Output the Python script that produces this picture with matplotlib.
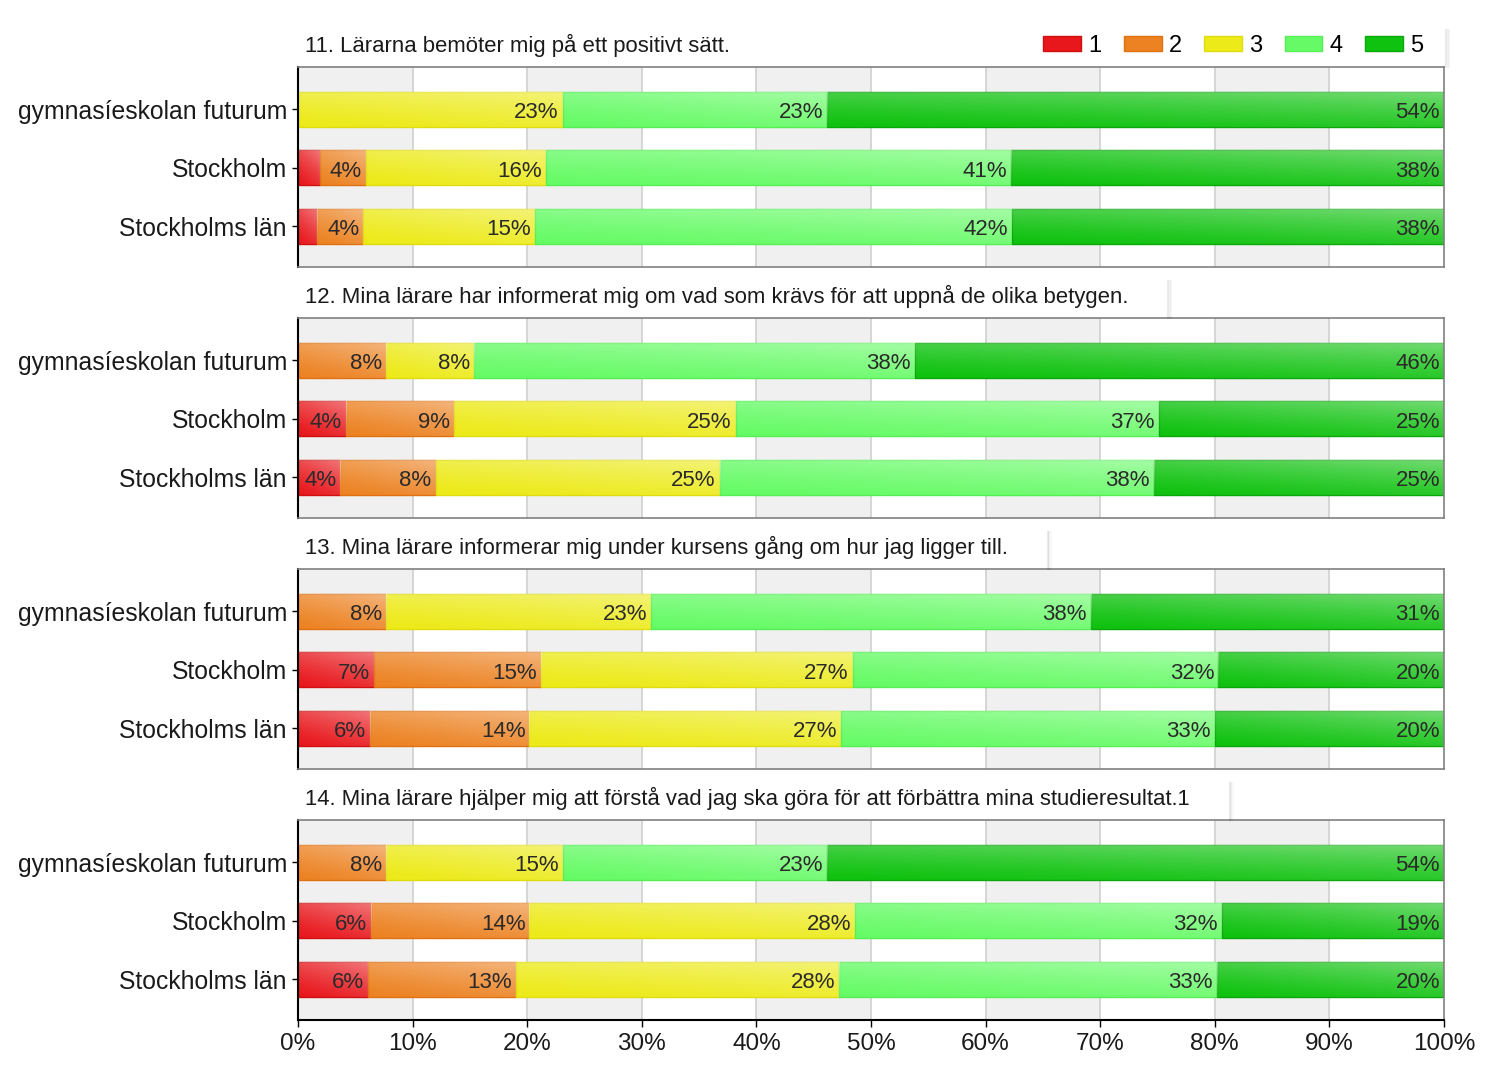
import numpy as np
import matplotlib
matplotlib.use("Agg")
import matplotlib.pyplot as plt
from matplotlib.lines import Line2D
from matplotlib.patches import Patch

plt.rcParams['font.family'] = ['Liberation Sans', 'DejaVu Sans']

questions = [
    "11. Lärarna bemöter mig på ett positivt sätt.",
    "12. Mina lärare har informerat mig om vad som krävs för att uppnå de olika betygen.",
    "13. Mina lärare informerar mig under kursens gång om hur jag ligger till.",
    "14. Mina lärare hjälper mig att förstå vad jag ska göra för att förbättra mina studieresultat.1",
]
groups = ["gymnasíeskolan futurum", "Stockholm", "Stockholms län"]
levels = ["1", "2", "3", "4", "5"]

# shares (%) for answers 1..5, per question, per group
q11 = [[0.0, 0.0, 23.1, 23.1, 53.8],
       [1.9, 4.0, 15.7, 40.6, 37.8],
       [1.7, 4.0, 15.0, 41.6, 37.7]]
q12 = [[0.0, 7.7, 7.7, 38.4, 46.2],
       [4.2, 9.4, 24.6, 36.9, 24.9],
       [3.7, 8.3, 24.8, 37.9, 25.3]]
q13 = [[0.0, 7.7, 23.1, 38.4, 30.8],
       [6.6, 14.6, 27.2, 31.9, 19.7],
       [6.3, 13.9, 27.2, 32.6, 20.0]]
q14 = [[0.0, 7.7, 15.4, 23.1, 53.8],
       [6.4, 13.8, 28.4, 32.0, 19.4],
       [6.1, 12.9, 28.2, 33.0, 19.8]]
data = [q11, q12, q13, q14]

xticks = [0, 10, 20, 30, 40, 50, 60, 70, 80, 90, 100]
xticklabels = [f"{t}%" for t in xticks]

base_colors = ["#e8171c", "#ec8222", "#ecea18", "#66fb66", "#0fc20f"]
edge_colors = ["#d01010", "#e07010", "#e0dc10", "#55ee55", "#0aa80a"]

W, H = 1500, 1075
fig = plt.figure(figsize=(15, 10.75), dpi=100)

panel_px = [(67, 267), (318, 518), (569, 769), (820, 1020)]
left_px, right_px = 298, 1444

def grad_image(n=40, m=200):
    v = np.linspace(1, 0, n)[:, None]
    u = np.linspace(0, 1, m)[None, :]
    a = 0.42 * np.clip(0.65 * v + 0.35 * u, 0, 1) ** 1.3
    img = np.ones((n, m, 4))
    img[..., 3] = a
    return img

axes = []
titles = []
for qi, (top, bot) in enumerate(panel_px):
    ax = fig.add_axes([left_px / W, 1 - bot / H, (right_px - left_px) / W, (bot - top) / H])
    axes.append(ax)
    for k in range(0, 100, 20):
        ax.axvspan(k, k + 10, color="#f0f0f0", zorder=0, lw=0)
    for t in xticks[1:-1]:
        ax.axvline(t, color="#d0d0d0", lw=1.2, zorder=0.5)
    vals = np.array(data[qi])
    ypos = np.arange(len(groups))
    bh = 0.6
    for gi in range(len(groups)):
        left = 0.0
        for li in range(len(levels)):
            w = vals[gi, li]
            bars = ax.barh(ypos[gi], w, left=left, height=bh, color=base_colors[li],
                           edgecolor=edge_colors[li], linewidth=1.0, zorder=2)
            patch = bars.patches[0]
            if w > 0:
                im = ax.imshow(grad_image(),
                               extent=[left, left + w, ypos[gi] + bh / 2, ypos[gi] - bh / 2],
                               aspect="auto", zorder=2.5, interpolation="bilinear")
                im.set_clip_path(patch)
            if w >= 3:
                ax.text(left + w - 0.35, ypos[gi] + 0.06, f"{w:.0f}%", ha="right", va="center",
                        fontsize=16, color="#2a2a2a", zorder=3)
            left += w
    ax.set_xlim(0, 100)
    ax.set_ylim(2.7, -0.72)
    ax.set_yticks(ypos)
    ax.set_yticklabels(groups, fontsize=17.8, color="#1a1a1a")
    ax.tick_params(axis="y", length=4, width=1, pad=4)
    ax.set_xticks(xticks)
    for s in ["top", "right", "bottom"]:
        ax.spines[s].set_color("#808080")
        ax.spines[s].set_linewidth(1.2)
    ax.spines["left"].set_color("black")
    ax.spines["left"].set_linewidth(1.5)
    if qi < 3:
        ax.tick_params(axis="x", length=0, labelbottom=False)
    else:
        ax.spines["bottom"].set_color("black")
        ax.spines["bottom"].set_linewidth(1.5)
        ax.set_xticklabels(xticklabels, fontsize=17.5, color="#1a1a1a")
        ax.tick_params(axis="x", length=5, width=1, pad=4)
    t = ax.text(7 / (right_px - left_px), 1 + 22 / (bot - top), questions[qi], transform=ax.transAxes,
                ha="left", va="center", fontsize=15.9, color="#1a1a1a")
    titles.append(t)

# faint shadow at the right end of each title box
fig.canvas.draw()
renderer = fig.canvas.get_renderer()
for qi, (top, bot) in enumerate(panel_px):
    bb = titles[qi].get_window_extent(renderer)
    xend = bb.x1 + 40 if qi > 0 else 1446
    xend = min(xend, 1446)
    for dx, a in [(0, 0.08), (1.5, 0.05), (3, 0.025)]:
        fig.add_artist(Line2D([(xend + dx) / W] * 2, [1 - top / H, 1 - (top - 37) / H],
                              color="black", alpha=a, lw=1.5, transform=fig.transFigure))

handles = [Patch(facecolor=c, edgecolor=e, linewidth=1) for c, e in zip(base_colors, edge_colors)]
fig.legend(handles, levels, loc="center right", bbox_to_anchor=(1423 / W, 1 - 46 / H),
           ncol=5, frameon=False, fontsize=17, handlelength=1.6, handleheight=0.6,
           handletextpad=0.3, columnspacing=0.95, borderpad=0, borderaxespad=0)

fig.savefig("out.png", dpi=100, facecolor="white")
